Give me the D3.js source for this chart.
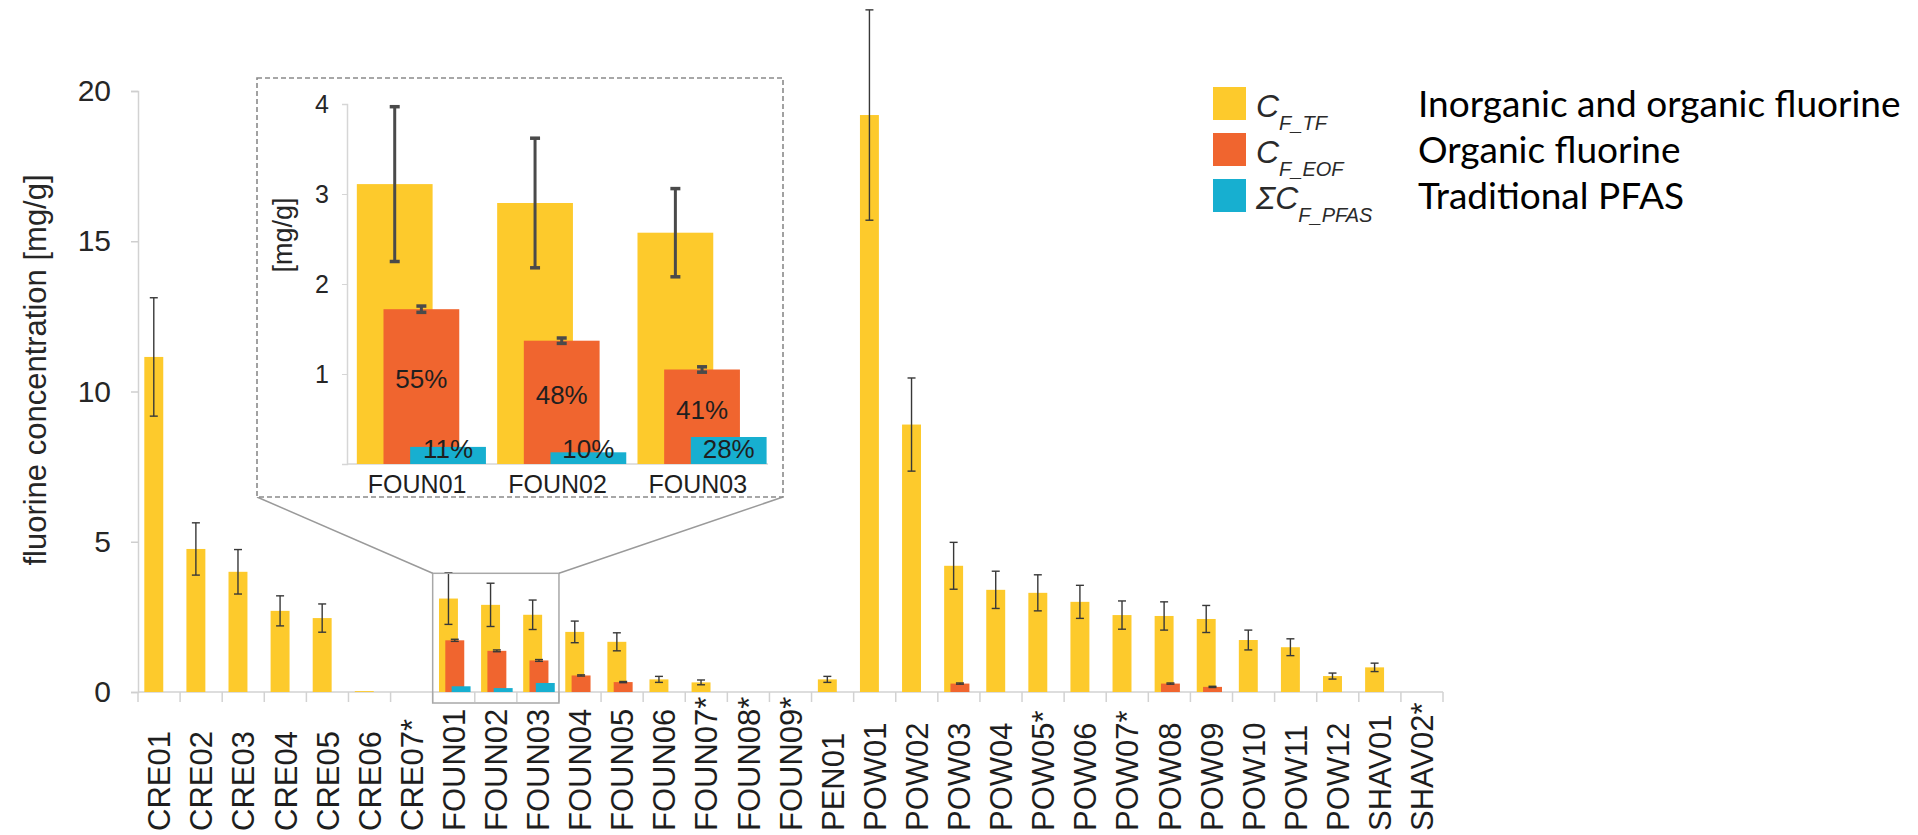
<!DOCTYPE html>
<meta charset="utf-8">
<style>
  body {margin: 0; background: #fff;}
  svg {font-family: 'Liberation Sans', Arial, sans-serif;}
</style>
<body>
<svg width="1918" height="835"></svg>
<script src="https://cdn.jsdelivr.net/npm/d3@7"></script>
<script>

// ---- data (mg/g) ----
var categories = ["CRE01","CRE02","CRE03","CRE04","CRE05","CRE06","CRE07*",
  "FOUN01","FOUN02","FOUN03","FOUN04","FOUN05","FOUN06","FOUN07*","FOUN08*","FOUN09*",
  "PEN01","POW01","POW02","POW03","POW04","POW05*","POW06","POW07*","POW08","POW09",
  "POW10","POW11","POW12","SHAV01","SHAV02*"];

var tfValues = [11.15, 4.76, 4.0, 2.7, 2.46, 0.03, 0,
  3.11, 2.9, 2.57, 2.0, 1.67, 0.42, 0.32, 0, 0,
  0.42, 19.2, 8.9, 4.2, 3.4, 3.3, 3.0, 2.56, 2.53, 2.43,
  1.73, 1.49, 0.53, 0.82, 0];
var tfErrors = [1.97, 0.87, 0.74, 0.5, 0.47, 0, 0,
  0.86, 0.72, 0.49, 0.36, 0.3, 0.1, 0.08, 0, 0,
  0.1, 3.5, 1.55, 0.78, 0.62, 0.6, 0.55, 0.47, 0.47, 0.45,
  0.33, 0.28, 0.1, 0.14, 0];

var eofValues = [0, 0, 0, 0, 0, 0, 0,
  1.72, 1.37, 1.05, 0.55, 0.33, 0, 0, 0, 0,
  0, 0, 0, 0.28, 0, 0, 0, 0, 0.28, 0.17,
  0, 0, 0, 0, 0];
var eofErrors = [0, 0, 0, 0, 0, 0, 0,
  0.035, 0.03, 0.03, 0.02, 0.02, 0, 0, 0, 0,
  0, 0, 0, 0.02, 0, 0, 0, 0, 0.02, 0.02,
  0, 0, 0, 0, 0];

var pfasValues = [0, 0, 0, 0, 0, 0, 0,
  0.19, 0.13, 0.3, 0, 0, 0, 0, 0, 0,
  0, 0, 0, 0, 0, 0, 0, 0, 0, 0,
  0, 0, 0, 0, 0];

var yTicks = [0, 5, 10, 15, 20];

// inset (zoom on FOUN01-03)
var insetCategories = ["FOUN01", "FOUN02", "FOUN03"];
var insetTicks = [1, 2, 3, 4];
var eofShare = ["55%", "48%", "41%"];
var pfasShare = ["11%", "10%", "28%"];

var legendSubs = ["F_TF", "F_EOF", "F_PFAS"];
var legendPrefix = ["", "", "\u03A3"];
var legendText = ["Inorganic and organic fluorine", "Organic fluorine", "Traditional PFAS"];

var colors = ["#FDCA2C", "#F0652F", "#17AFD0"];

// ---- layout ----
var svg = d3.select("svg");

var x = d3.scaleBand().domain(categories).range([138, 1443]);
var y = d3.scaleLinear().domain([0, 20]).range([692, 91]);
var bw = x.bandwidth();

var series = [
  {vals: tfValues, errs: tfErrors},
  {vals: eofValues, errs: eofErrors},
  {vals: pfasValues, errs: null}
];

// main y axis
var yAxis = svg.append("g")
    .attr("transform", "translate(138,0)")
    .call(d3.axisLeft(y).tickValues(yTicks).tickSize(7).tickPadding(20));
yAxis.select(".domain").attr("stroke", "#d2d2d2").attr("stroke-width", 1.5);
yAxis.selectAll(".tick line").attr("stroke", "#cfcfcf").attr("stroke-width", 1.5);
yAxis.selectAll(".tick text").attr("font-size", 30).attr("fill", "#262626")
    .attr("font-family", "'Liberation Sans', Arial, sans-serif");

svg.append("text")
    .attr("transform", "translate(35,370) rotate(-90)")
    .attr("text-anchor", "middle")
    .attr("dominant-baseline", "central")
    .attr("font-size", 31)
    .attr("fill", "#262626")
    .text("fluorine concentration [mg/g]");

// x axis line + boundary ticks
svg.append("line")
    .attr("x1", x.range()[0]).attr("x2", x.range()[1])
    .attr("y1", y(0)).attr("y2", y(0))
    .attr("stroke", "#d2d2d2").attr("stroke-width", 1.5);

svg.append("g").selectAll("line")
    .data(categories.concat(["end"]))
    .enter().append("line")
    .attr("x1", function(d, i) { return x.range()[0] + i * x.step(); })
    .attr("x2", function(d, i) { return x.range()[0] + i * x.step(); })
    .attr("y1", y(0)).attr("y2", y(0) + 10)
    .attr("stroke", "#d2d2d2").attr("stroke-width", 1.5);

svg.append("g").selectAll("text")
    .data(categories)
    .enter().append("text")
    .attr("transform", function(d) { return "translate(" + (x(d) + bw / 2) + ",831) rotate(-90)"; })
    .attr("dy", "0.36em")
    .attr("font-size", 31)
    .attr("fill", "#1e1e1e")
    .text(function(d) { return d; });

// main bars
var mStart = 0.15, mW = 0.45, mOff = 0.15;

series.forEach(function(s, si) {
  var g = svg.append("g");
  g.selectAll("rect")
    .data(categories.filter(function(c, i) { return s.vals[i] > 0; }))
    .enter().append("rect")
    .attr("x", function(c) { return x(c) + bw * (mStart + si * mOff); })
    .attr("width", bw * mW)
    .attr("y", function(c) { return y(s.vals[categories.indexOf(c)]); })
    .attr("height", function(c) { return y(0) - y(s.vals[categories.indexOf(c)]); })
    .attr("fill", colors[si]);
});

series.forEach(function(s, si) {
  if (!s.errs) return;
  var g = svg.append("g").attr("stroke", "#383838").attr("stroke-width", 1.4);
  categories.forEach(function(c, i) {
    if (!(s.errs[i] > 0)) return;
    var cx = x(c) + bw * (mStart + si * mOff + mW / 2);
    var hi = y(s.vals[i] + s.errs[i]), lo = y(s.vals[i] - s.errs[i]);
    g.append("line").attr("x1", cx).attr("x2", cx).attr("y1", hi).attr("y2", lo);
    g.append("line").attr("x1", cx - 4).attr("x2", cx + 4).attr("y1", hi).attr("y2", hi);
    g.append("line").attr("x1", cx - 4).attr("x2", cx + 4).attr("y1", lo).attr("y2", lo);
  });
});

// highlight rectangle around FOUN01-03 and connectors to the inset
var zoomTop = 3.95;
var zx0 = x("FOUN01"), zx1 = x("FOUN03") + x.step(), zy0 = y(zoomTop), zy1 = y(0) + 11;
svg.append("rect")
    .attr("x", zx0).attr("y", zy0).attr("width", zx1 - zx0).attr("height", zy1 - zy0)
    .attr("fill", "none").attr("stroke", "#a8a8a8").attr("stroke-width", 1.5);

var box = {x0: 257, y0: 78, x1: 783, y1: 497};
svg.append("line").attr("x1", box.x0).attr("y1", box.y1).attr("x2", zx0).attr("y2", zy0)
    .attr("stroke", "#9a9a9a").attr("stroke-width", 1.5);
svg.append("line").attr("x1", box.x1).attr("y1", box.y1).attr("x2", zx1).attr("y2", zy0)
    .attr("stroke", "#9a9a9a").attr("stroke-width", 1.5);

// ---- inset ----
var inset = svg.append("g");
inset.append("rect")
    .attr("x", box.x0).attr("y", box.y0)
    .attr("width", box.x1 - box.x0).attr("height", box.y1 - box.y0)
    .attr("fill", "#fff").attr("stroke", "#8a8a8a")
    .attr("stroke-width", 1.6).attr("stroke-dasharray", "5,3");

var ix = d3.scaleBand().domain(insetCategories).range([347, 768]);
var iy = d3.scaleLinear().domain([0, 4]).range([464, 104]);
var ibw = ix.bandwidth();
var iStart = 0.07, iW = 0.54, iOff = 0.19;

var iAxis = inset.append("g")
    .attr("transform", "translate(347,0)")
    .call(d3.axisLeft(iy).tickValues(insetTicks).tickFormat(d3.format("d")).tickSize(5).tickPadding(13));
iAxis.select(".domain").attr("stroke", "#d6d6d6").attr("stroke-width", 1.5);
iAxis.selectAll(".tick line").attr("stroke", "#d6d6d6");
iAxis.selectAll(".tick text").attr("font-size", 25).attr("fill", "#262626")
    .attr("font-family", "'Liberation Sans', Arial, sans-serif");

inset.append("line")
    .attr("x1", 347).attr("x2", 768).attr("y1", iy(0)).attr("y2", iy(0))
    .attr("stroke", "#d6d6d6").attr("stroke-width", 1.5);

inset.append("text")
    .attr("transform", "translate(283,235) rotate(-90)")
    .attr("text-anchor", "middle").attr("dominant-baseline", "central")
    .attr("font-size", 27).attr("fill", "#262626")
    .text("[mg/g]");

inset.append("g").selectAll("text")
    .data(insetCategories)
    .enter().append("text")
    .attr("x", function(d) { return ix(d) + ibw / 2; })
    .attr("y", 493)
    .attr("text-anchor", "middle")
    .attr("font-size", 25).attr("fill", "#1e1e1e")
    .text(function(d) { return d; });

series.forEach(function(s, si) {
  inset.append("g").selectAll("rect")
    .data(insetCategories)
    .enter().append("rect")
    .attr("x", function(c) { return ix(c) + ibw * (iStart + si * iOff); })
    .attr("width", ibw * iW)
    .attr("y", function(c) { return iy(s.vals[categories.indexOf(c)]); })
    .attr("height", function(c) { return iy(0) - iy(s.vals[categories.indexOf(c)]); })
    .attr("fill", colors[si]);
});

series.forEach(function(s, si) {
  if (!s.errs) return;
  var g = inset.append("g").attr("stroke", "#4a4a4a");
  insetCategories.forEach(function(c) {
    var i = categories.indexOf(c);
    var cx = ix(c) + ibw * (iStart + si * iOff + iW / 2);
    var hi = iy(s.vals[i] + s.errs[i]), lo = iy(s.vals[i] - s.errs[i]);
    g.append("line").attr("x1", cx).attr("x2", cx).attr("y1", hi).attr("y2", lo).attr("stroke-width", 3);
    g.append("line").attr("x1", cx - 5).attr("x2", cx + 5).attr("y1", hi).attr("y2", hi).attr("stroke-width", 3.5);
    g.append("line").attr("x1", cx - 5).attr("x2", cx + 5).attr("y1", lo).attr("y2", lo).attr("stroke-width", 3.5);
  });
});

// percentage labels
inset.append("g").selectAll("text")
    .data(insetCategories)
    .enter().append("text")
    .attr("x", function(c) { return ix(c) + ibw * (iStart + iOff + iW / 2); })
    .attr("y", function(c) { return iy(eofValues[categories.indexOf(c)] * 0.5 + 0.08); })
    .attr("text-anchor", "middle").attr("dominant-baseline", "central")
    .attr("font-size", 26).attr("fill", "#1f1f1f")
    .text(function(c, i) { return eofShare[i]; });

inset.append("g").selectAll("text")
    .data(insetCategories)
    .enter().append("text")
    .attr("x", function(c) { return ix(c) + ibw * (iStart + 2 * iOff + iW / 2); })
    .attr("y", iy(0) - 6)
    .attr("text-anchor", "middle")
    .attr("font-size", 26).attr("fill", "#1f1f1f")
    .text(function(c, i) { return pfasShare[i]; });

// ---- legend ----
var legend = svg.append("g");
legendSubs.forEach(function(sub, i) {
  var row = legend.append("g").attr("transform", "translate(1213," + (87 + i * 46) + ")");
  row.append("rect").attr("width", 33).attr("height", 33).attr("fill", colors[i]);
  var t = row.append("text")
      .attr("x", 43).attr("y", 30)
      .attr("font-style", "italic").attr("fill", "#2a2a2a");
  t.append("tspan").attr("font-size", 32).text(legendPrefix[i] + "C");
  t.append("tspan").attr("font-size", 20).attr("dy", 13).text(sub);
  row.append("text")
      .attr("x", 205).attr("y", 30)
      .attr("font-family", "Lato, 'Open Sans', sans-serif")
      .attr("font-size", 37).attr("fill", "#000")
      .text(legendText[i]);
});

</script>
</body>
